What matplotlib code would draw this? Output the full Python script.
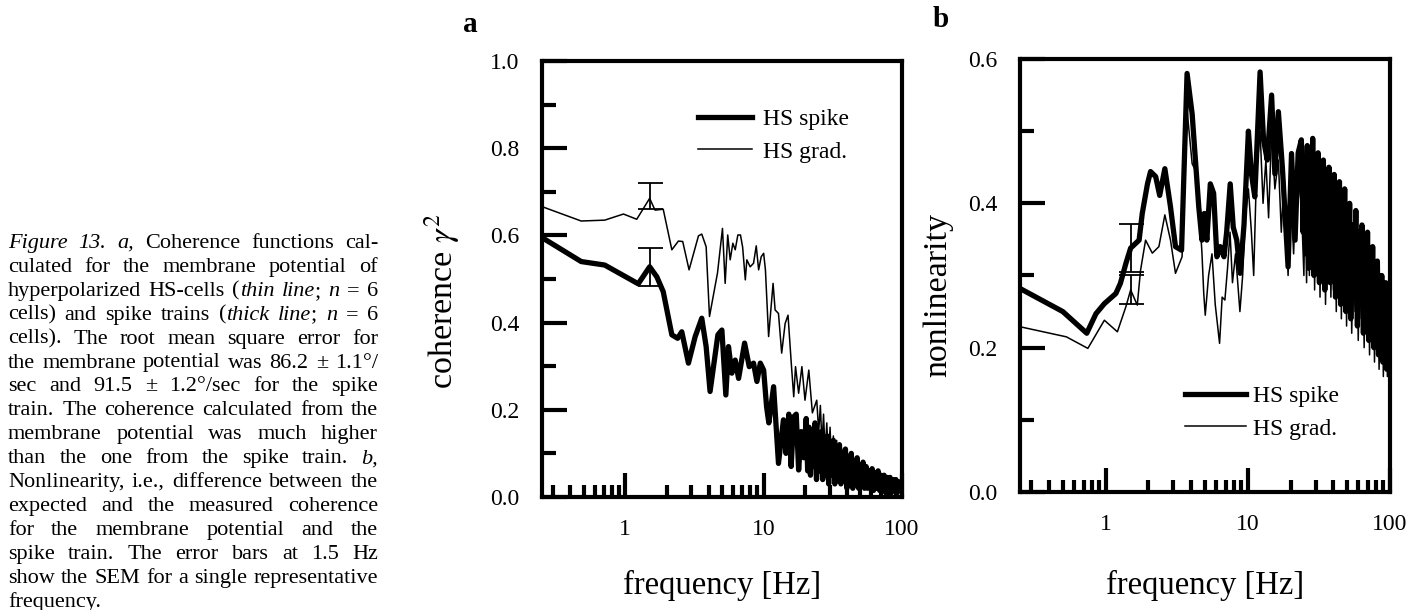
import numpy as np
import matplotlib
matplotlib.use("Agg")
import matplotlib.pyplot as plt
from matplotlib.lines import Line2D
from matplotlib.ticker import FixedLocator, LogLocator, MultipleLocator, FormatStrFormatter, NullFormatter

plt.rcParams['font.family'] = ['Liberation Serif', 'DejaVu Serif']
plt.rcParams['mathtext.fontset'] = 'stix'
plt.rcParams['path.simplify'] = False   # keep the dense high-frequency wiggles

# ---- data: (frequency Hz, value) ----
a_grad = [(0.25, 0.666), (0.48, 0.633), (0.71, 0.635), (0.97, 0.649), (1.21, 0.637), (1.5, 0.685),
          (1.64, 0.658), (1.88, 0.66), (2.17, 0.567), (2.42, 0.587), (2.6, 0.586), (2.89, 0.521),
          (3.38, 0.599), (3.57, 0.603), (3.84, 0.574), (4.06, 0.414), (4.64, 0.514), (5.04, 0.616),
          (5.27, 0.49), (5.5, 0.601), (5.73, 0.544), (5.99, 0.582), (6.23, 0.567), (6.51, 0.601),
          (6.8, 0.601), (7.05, 0.573), (7.37, 0.498), (7.56, 0.544), (7.99, 0.528), (8.45, 0.536),
          (8.84, 0.576), (9.2, 0.521), (9.6, 0.551), (10.0, 0.559), (10.3, 0.521), (10.86, 0.368),
          (11.7, 0.49), (12.1, 0.429), (12.8, 0.421), (13.5, 0.33), (14.3, 0.398), (15.0, 0.417),
          (15.9, 0.299), (16.5, 0.23), (17.0, 0.299), (17.9, 0.238), (18.9, 0.299), (19.9, 0.222),
          (21.2, 0.291), (22.5, 0.193), (24.2, 0.222), (25, 0.15), (25.7, 0.21), (26.4, 0.12),
          (27.1, 0.19), (27.8, 0.1), (28.6, 0.17), (29.4, 0.08), (30.2, 0.16), (31, 0.07),
          (31.9, 0.14), (32.8, 0.06), (33.7, 0.13), (34.6, 0.05), (35.6, 0.12), (36.6, 0.05),
          (37.6, 0.11), (38.7, 0.04), (39.8, 0.1), (40.9, 0.04), (42, 0.09), (43.2, 0.03),
          (44.4, 0.085), (45.6, 0.03), (46.9, 0.08), (48.2, 0.025), (49.6, 0.075), (51, 0.02),
          (52.5, 0.07), (54, 0.025), (55.5, 0.065), (57, 0.02), (58.7, 0.06), (60.4, 0.02),
          (62.1, 0.055), (63.9, 0.015), (65.7, 0.05), (67.6, 0.02), (69.5, 0.05), (71.5, 0.015),
          (73.5, 0.045), (75.6, 0.01), (77.7, 0.04), (79.9, 0.015), (82.2, 0.04), (84.5, 0.01),
          (86.9, 0.035), (89.4, 0.015), (91.9, 0.035), (94.5, 0.01), (97.2, 0.03), (100, 0.02)]

a_spike = [(0.25, 0.595), (0.48, 0.54), (0.71, 0.532), (1.24, 0.489), (1.5, 0.528), (1.69, 0.505),
           (1.88, 0.471), (2.17, 0.372), (2.39, 0.364), (2.56, 0.379), (2.86, 0.307), (3.2, 0.368),
           (3.57, 0.41), (3.84, 0.345), (4.1, 0.242), (4.67, 0.372), (4.99, 0.383), (5.33, 0.234),
           (5.57, 0.345), (5.89, 0.284), (6.23, 0.314), (6.59, 0.272), (7.28, 0.353), (7.87, 0.299),
           (8.45, 0.307), (8.94, 0.265), (9.46, 0.307), (10.0, 0.291), (10.5, 0.207), (10.9, 0.17),
           (11.8, 0.253), (12.8, 0.077), (13.9, 0.177), (14.5, 0.1), (15.2, 0.19), (15.8, 0.07),
           (16.5, 0.184), (17.2, 0.19), (17.9, 0.062), (18.7, 0.15), (19.5, 0.09), (20.3, 0.18),
           (20.8, 0.06), (21.3, 0.16), (21.8, 0.05), (22.3, 0.15), (22.9, 0.07), (23.5, 0.17),
           (24.1, 0.04), (24.7, 0.14), (25.3, 0.06), (26, 0.15), (26.7, 0.04), (27.4, 0.13),
           (28.1, 0.05), (28.8, 0.14), (29.5, 0.03), (30.3, 0.12), (31.1, 0.05), (31.9, 0.13),
           (32.7, 0.03), (33.5, 0.11), (34.4, 0.04), (35.3, 0.12), (36.2, 0.03), (37.1, 0.1),
           (38, 0.04), (39, 0.11), (40, 0.02), (41, 0.09), (42, 0.04), (43, 0.1), (44.1, 0.02),
           (45.2, 0.08), (46.3, 0.03), (47.4, 0.09), (48.6, 0.02), (49.8, 0.07), (51, 0.03),
           (52.3, 0.08), (53.6, 0.02), (55, 0.07), (56.4, 0.02), (57.8, 0.06), (59.3, 0.02),
           (60.8, 0.065), (62.3, 0.015), (63.9, 0.055), (65.5, 0.02), (67.2, 0.06), (68.9, 0.015),
           (70.6, 0.05), (72.4, 0.02), (74.2, 0.05), (76, 0.01), (78, 0.045), (80, 0.015),
           (82, 0.045), (84, 0.01), (86, 0.04), (88.2, 0.015), (90.4, 0.04), (92.6, 0.01),
           (95, 0.035), (97.4, 0.015), (100, 0.03)]

b_grad = [(0.25, 0.229), (0.53, 0.215), (0.75, 0.199), (0.98, 0.238), (1.21, 0.222), (1.39, 0.257),
          (1.5, 0.28), (1.67, 0.259), (1.76, 0.307), (1.91, 0.349), (2.13, 0.331), (2.37, 0.34),
          (2.61, 0.384), (2.86, 0.349), (3.1, 0.303), (3.45, 0.326), (3.74, 0.529), (4.06, 0.455),
          (4.4, 0.441), (4.76, 0.331), (4.9, 0.275), (5.02, 0.245), (5.3, 0.3), (5.6, 0.33),
          (5.9, 0.26), (6.33, 0.206), (6.6, 0.27), (6.9, 0.266), (7.2, 0.31), (7.5, 0.36),
          (7.8, 0.29), (8.2, 0.33), (8.8, 0.25), (9.2, 0.3), (9.6, 0.38), (10.1, 0.42), (10.6, 0.36),
          (11, 0.3), (11.5, 0.44), (12.2, 0.5), (12.8, 0.4), (13.4, 0.46), (14, 0.38), (14.7, 0.5),
          (15.5, 0.42), (16.4, 0.46), (17.2, 0.36), (18, 0.44), (19.2, 0.3), (20, 0.42), (21, 0.33),
          (22, 0.45), (23.8, 0.4), (24.8, 0.3), (25.3, 0.42), (25.9, 0.29), (26.5, 0.44),
          (27.1, 0.3), (27.7, 0.41), (28.3, 0.32), (28.9, 0.45), (29.5, 0.28), (30.1, 0.42),
          (30.8, 0.31), (31.5, 0.44), (32.2, 0.27), (32.9, 0.4), (33.6, 0.3), (34.4, 0.43),
          (35.2, 0.26), (36, 0.39), (36.8, 0.29), (37.6, 0.42), (38.4, 0.27), (39.2, 0.38),
          (40, 0.28), (41, 0.41), (41.9, 0.25), (42.8, 0.37), (43.7, 0.28), (44.6, 0.4),
          (45.5, 0.24), (46.5, 0.36), (47.5, 0.27), (48.5, 0.39), (49.5, 0.23), (50.5, 0.35),
          (51.5, 0.26), (52.5, 0.37), (53.8, 0.22), (55.2, 0.34), (56.8, 0.25), (58.2, 0.36),
          (59.8, 0.21), (61.2, 0.33), (62.8, 0.24), (64.2, 0.34), (65.8, 0.2), (67.2, 0.31),
          (68.8, 0.23), (70.2, 0.33), (71.8, 0.19), (73.2, 0.3), (74.8, 0.21), (76.2, 0.31),
          (77.8, 0.18), (79.2, 0.28), (80.8, 0.2), (82.2, 0.29), (83.8, 0.17), (85.2, 0.27),
          (86.8, 0.19), (88.2, 0.27), (89.8, 0.16), (91.2, 0.25), (92.8, 0.18), (94.2, 0.26),
          (95.8, 0.16), (97.2, 0.23), (100, 0.19)]

b_spike = [(0.25, 0.282), (0.5, 0.25), (0.737, 0.22), (0.855, 0.247), (0.98, 0.261), (1.18, 0.275),
           (1.27, 0.289), (1.39, 0.317), (1.5, 0.338), (1.72, 0.349), (1.81, 0.386), (1.97, 0.427),
           (2.07, 0.444), (2.25, 0.437), (2.4, 0.411), (2.61, 0.448), (2.86, 0.395), (3.1, 0.34),
           (3.42, 0.335), (3.74, 0.58), (4.06, 0.524), (4.52, 0.395), (4.76, 0.349), (4.95, 0.386),
           (5.15, 0.349), (5.45, 0.427), (5.75, 0.414), (6.06, 0.326), (6.4, 0.34), (6.8, 0.326),
           (7.1, 0.36), (7.52, 0.427), (7.9, 0.367), (8.36, 0.349), (8.84, 0.303), (9.4, 0.37),
           (10.1, 0.5), (10.6, 0.441), (11.2, 0.409), (12.2, 0.582), (12.9, 0.488), (13.7, 0.46),
           (14.7, 0.55), (15.5, 0.441), (16.4, 0.527), (17.5, 0.45), (19.2, 0.312), (20.3, 0.469),
           (21.5, 0.349), (22.6, 0.47), (23.8, 0.488), (24.5, 0.36), (25, 0.46), (25.6, 0.33),
           (26.2, 0.48), (26.8, 0.31), (27.4, 0.44), (28, 0.35), (28.6, 0.49), (29.2, 0.3),
           (29.8, 0.45), (30.5, 0.34), (31.2, 0.47), (31.9, 0.29), (32.6, 0.43), (33.3, 0.33),
           (34, 0.46), (34.8, 0.28), (35.6, 0.42), (36.4, 0.31), (37.2, 0.45), (38, 0.29),
           (38.8, 0.41), (39.6, 0.3), (40.5, 0.44), (41.4, 0.27), (42.3, 0.4), (43.2, 0.3),
           (44.1, 0.43), (45, 0.26), (46, 0.39), (47, 0.29), (48, 0.42), (49, 0.25), (50, 0.38),
           (51, 0.28), (52, 0.4), (53, 0.24), (54.5, 0.37), (56, 0.27), (57.5, 0.39), (59, 0.23),
           (60.5, 0.36), (62, 0.26), (63.5, 0.37), (65, 0.22), (66.5, 0.34), (68, 0.25),
           (69.5, 0.36), (71, 0.21), (72.5, 0.33), (74, 0.23), (75.5, 0.34), (77, 0.2),
           (78.5, 0.31), (80, 0.22), (81.5, 0.32), (83, 0.19), (84.5, 0.3), (86, 0.21),
           (87.5, 0.3), (89, 0.18), (90.5, 0.28), (92, 0.2), (93.5, 0.29), (95, 0.17),
           (96.5, 0.26), (98, 0.19), (100, 0.22)]

# SEM at 1.5 Hz: (mean, sem)
err_freq = 1.5
a_err = {'spike': (0.528, 0.044), 'grad': (0.69, 0.03)}
b_err = {'spike': (0.338, 0.033), 'grad': (0.28, 0.02)}

caption = [
    "*Figure 13.*   *a,* Coherence functions cal-",
    "culated for the membrane potential of",
    "hyperpolarized HS-cells (*thin line*; *n* = 6",
    "cells) and spike trains (*thick line*; *n* = 6",
    "cells). The root mean square error for",
    "the membrane potential was 86.2 ± 1.1°/",
    "sec and 91.5 ± 1.2°/sec for the spike",
    "train. The coherence calculated from the",
    "membrane potential was much higher",
    "than the one from the spike train. *b,*",
    "Nonlinearity, i.e., difference between the",
    "expected and the measured coherence",
    "for the membrane potential and the",
    "spike train. The error bars at 1.5 Hz",
    "show the SEM for a single representative",
    "frequency.",
]

W, H = 1413, 610
fig = plt.figure(figsize=(W / 100, H / 100), dpi=100)
ax_a = fig.add_axes([542 / W, (H - 497) / H, 360 / W, 436 / H])
ax_b = fig.add_axes([1020 / W, (H - 492) / H, 370 / W, 433 / H])

THICK, THIN = 3.8, 1.1


def style_axes(ax, ymax):
    ax.set_xscale('log')
    ax.set_xlim(0.25, 100)
    ax.set_ylim(0, ymax)
    for s in ax.spines.values():
        s.set_linewidth(3)
    ax.xaxis.set_major_locator(FixedLocator([1, 10, 100]))
    ax.xaxis.set_major_formatter(FormatStrFormatter('%g'))
    ax.xaxis.set_minor_locator(LogLocator(base=10, subs=np.arange(2, 10), numticks=20))
    ax.xaxis.set_minor_formatter(NullFormatter())
    ax.yaxis.set_major_locator(MultipleLocator(0.2))
    ax.yaxis.set_minor_locator(MultipleLocator(0.1))
    ax.yaxis.set_major_formatter(FormatStrFormatter('%.1f'))
    ax.tick_params(which='both', direction='in', width=3, top=False, right=False, labelsize=17)
    ax.tick_params(axis='x', which='major', length=17, pad=16)
    ax.tick_params(axis='x', which='minor', length=9)
    ax.tick_params(axis='y', which='major', length=18, pad=16)
    ax.tick_params(axis='y', which='minor', length=10)


def draw_panel(ax, spike, grad, err):
    f, v = np.array(spike).T
    ax.plot(f, v, color='black', lw=THICK, solid_joinstyle='round')
    f, v = np.array(grad).T
    ax.plot(f, v, color='black', lw=THIN)
    for key in ('spike', 'grad'):
        m, e = err[key]
        ax.errorbar([err_freq], [m], yerr=[e], color='black', lw=1.3, capsize=9, capthick=1.3)


style_axes(ax_a, 1.0)
draw_panel(ax_a, a_spike, a_grad, a_err)
ax_a.set_ylabel(r'coherence $\gamma^2$', fontsize=24.5)
ax_a.yaxis.set_label_coords(-0.222, 0.45)
ax_a.set_xlabel('frequency [Hz]', fontsize=23.5)
ax_a.xaxis.set_label_coords(0.5, -0.167)

style_axes(ax_b, 0.6)
draw_panel(ax_b, b_spike, b_grad, b_err)
ax_b.set_ylabel('nonlinearity', fontsize=24.5)
ax_b.yaxis.set_label_coords(-0.18, 0.455)
ax_b.set_xlabel('frequency [Hz]', fontsize=23.5)
ax_b.xaxis.set_label_coords(0.5, -0.18)

handles = [Line2D([], [], color='black', lw=THICK), Line2D([], [], color='black', lw=THIN)]
labels = ['HS spike', 'HS grad.']
ax_a.legend(handles, labels, loc='upper left', bbox_to_anchor=(0.433, 0.89), frameon=False,
            fontsize=17, handlelength=2.3, handletextpad=0.45, labelspacing=0.45,
            borderpad=0, borderaxespad=0)
ax_b.legend(handles, labels, loc='upper left', bbox_to_anchor=(0.446, 0.245), frameon=False,
            fontsize=17, handlelength=2.6, handletextpad=0.3, labelspacing=0.45,
            borderpad=0, borderaxespad=0)

fig.text(463 / W, 1 - 32 / H, 'a', fontsize=21, fontweight='bold', va='baseline')
fig.text(933 / W, 1 - 27 / H, 'b', fontsize=21, fontweight='bold', va='baseline')

# ---- justified caption on the left ----
renderer = fig.canvas.get_renderer()
left, right = 8, 378
top_base, step = 248, 23.9
cap_size = 16


def parse_words(line):
    words, cur, ital = [], [], False
    buf = ''
    for ch in line:
        if ch == '*':
            if buf:
                cur.append((buf, ital))
                buf = ''
            ital = not ital
        elif ch == ' ':
            if buf:
                cur.append((buf, ital))
                buf = ''
            if cur:
                words.append(cur)
                cur = []
        else:
            buf += ch
    if buf:
        cur.append((buf, ital))
    if cur:
        words.append(cur)
    return words


def seg_width(txt, ital):
    t = fig.text(0, 0, txt, fontsize=cap_size, style='italic' if ital else 'normal')
    w = t.get_window_extent(renderer).width
    t.remove()
    return w


space = seg_width('a a', False) - 2 * seg_width('a', False)
for i, line in enumerate(caption):
    words = parse_words(line)
    widths = [[seg_width(s, it) for s, it in w] for w in words]
    totals = [sum(ws) for ws in widths]
    gaps = len(words) - 1
    if i == len(caption) - 1 or gaps == 0:
        gap = space
    else:
        gap = (right - left - sum(totals)) / gaps
    y = H - (top_base + i * step)
    x = left
    for w, ws in zip(words, widths):
        xx = x
        for (s, it), sw in zip(w, ws):
            fig.text(xx / W, y / H, s, fontsize=cap_size, style='italic' if it else 'normal',
                     va='baseline', ha='left')
            xx += sw
        x += sum(ws) + gap

fig.savefig('out.png', dpi=100)
